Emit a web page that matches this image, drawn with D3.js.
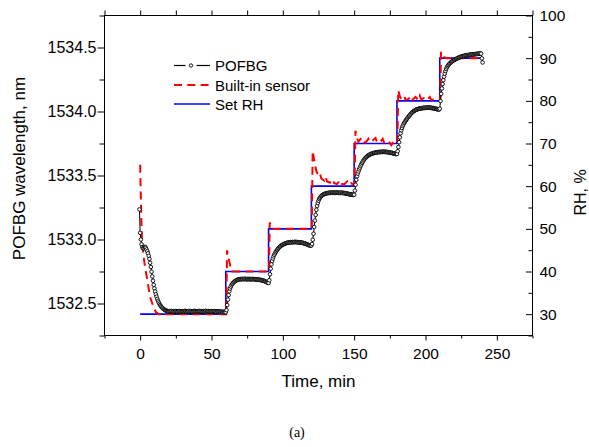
<!DOCTYPE html>
<html><head><meta charset="utf-8">
<script src="https://cdn.jsdelivr.net/npm/d3@7"></script>
<style>
body{margin:0;background:#fff}
svg{display:block}
text{font-family:"Liberation Sans",Arial,sans-serif;fill:#000}
</style>
</head><body>
<svg id="chart" width="589" height="447"></svg>
<script>
// ---------------- DATA ----------------
// POFBG Bragg wavelength (nm), sampled every 0.5 min starting at t = -0.5 min
const pofbgStart = -0.5;
const pofbgStep = 0.5;
const pofbgWavelength = [
  1533.235,1533.052,1533.000,1532.962,1532.940,1532.930,1532.932,1532.940,1532.942,1532.935,
  1532.922,1532.908,1532.892,1532.872,1532.848,1532.818,1532.785,1532.748,1532.712,1532.678,
  1532.646,1532.618,1532.594,1532.572,1532.553,1532.536,1532.521,1532.508,1532.497,1532.487,
  1532.479,1532.472,1532.466,1532.460,1532.456,1532.452,1532.448,1532.446,1532.443,1532.441,
  1532.440,1532.438,1532.441,1532.437,1532.439,1532.442,1532.436,1532.438,1532.440,1532.435,
  1532.439,1532.441,1532.437,1532.436,1532.440,1532.438,1532.442,1532.437,1532.435,1532.439,
  1532.441,1532.438,1532.436,1532.440,1532.443,1532.439,1532.437,1532.440,1532.438,1532.442,
  1532.436,1532.439,1532.441,1532.437,1532.435,1532.440,1532.438,1532.443,1532.439,1532.436,
  1532.438,1532.441,1532.437,1532.439,1532.442,1532.436,1532.440,1532.438,1532.435,1532.439,
  1532.441,1532.437,1532.440,1532.443,1532.438,1532.436,1532.439,1532.441,1532.437,1532.434,
  1532.438,1532.440,1532.436,1532.439,1532.437,1532.441,1532.435,1532.438,1532.436,1532.440,
  1532.437,1532.434,1532.438,1532.436,1532.433,1532.437,1532.435,1532.432,1532.436,1532.433,
  1532.431,1532.432,1532.448,1532.488,1532.530,1532.566,1532.595,1532.617,1532.632,1532.643,
  1532.652,1532.659,1532.665,1532.670,1532.674,1532.678,1532.681,1532.684,1532.686,1532.688,
  1532.689,1532.691,1532.688,1532.692,1532.690,1532.693,1532.689,1532.691,1532.694,1532.690,
  1532.688,1532.692,1532.691,1532.689,1532.693,1532.690,1532.687,1532.691,1532.689,1532.692,
  1532.690,1532.688,1532.691,1532.687,1532.689,1532.686,1532.688,1532.685,1532.687,1532.684,
  1532.682,1532.684,1532.680,1532.678,1532.679,1532.675,1532.673,1532.670,1532.668,1532.665,
  1532.662,1532.660,1532.682,1532.728,1532.772,1532.806,1532.832,1532.852,1532.868,1532.881,
  1532.892,1532.902,1532.911,1532.919,1532.926,1532.933,1532.939,1532.944,1532.949,1532.953,
  1532.957,1532.960,1532.963,1532.966,1532.968,1532.970,1532.972,1532.974,1532.975,1532.977,
  1532.976,1532.978,1532.980,1532.977,1532.979,1532.981,1532.978,1532.980,1532.982,1532.979,
  1532.981,1532.978,1532.980,1532.977,1532.979,1532.976,1532.978,1532.975,1532.973,1532.975,
  1532.971,1532.969,1532.970,1532.966,1532.964,1532.962,1532.959,1532.957,1532.955,1532.953,
  1532.952,1532.953,1532.965,1532.998,1533.045,1533.098,1533.148,1533.192,1533.232,1533.262,
  1533.285,1533.303,1533.316,1533.326,1533.334,1533.340,1533.345,1533.349,1533.352,1533.355,
  1533.357,1533.359,1533.361,1533.363,1533.362,1533.364,1533.366,1533.363,1533.365,1533.367,
  1533.364,1533.366,1533.368,1533.365,1533.363,1533.366,1533.368,1533.365,1533.367,1533.364,
  1533.366,1533.363,1533.365,1533.367,1533.364,1533.362,1533.365,1533.363,1533.360,1533.362,
  1533.359,1533.357,1533.358,1533.355,1533.353,1533.355,1533.352,1533.350,1533.351,1533.349,
  1533.348,1533.350,1533.382,1533.428,1533.466,1533.494,1533.515,1533.532,1533.548,1533.562,
  1533.575,1533.587,1533.598,1533.608,1533.617,1533.625,1533.632,1533.638,1533.644,1533.649,
  1533.654,1533.658,1533.661,1533.664,1533.667,1533.669,1533.671,1533.673,1533.675,1533.676,
  1533.678,1533.680,1533.679,1533.682,1533.681,1533.683,1533.685,1533.682,1533.684,1533.686,
  1533.683,1533.685,1533.687,1533.684,1533.686,1533.683,1533.685,1533.682,1533.684,1533.681,
  1533.679,1533.681,1533.678,1533.676,1533.677,1533.674,1533.672,1533.673,1533.670,1533.669,
  1533.667,1533.668,1533.690,1533.722,1533.760,1533.798,1533.830,1533.853,1533.871,1533.886,
  1533.898,1533.909,1533.918,1533.927,1533.935,1533.943,1533.951,1533.958,1533.965,1533.972,
  1533.979,1533.985,1533.991,1533.996,1534.000,1534.004,1534.008,1534.011,1534.014,1534.016,
  1534.018,1534.020,1534.022,1534.024,1534.023,1534.025,1534.027,1534.026,1534.028,1534.030,
  1534.027,1534.029,1534.031,1534.028,1534.030,1534.032,1534.029,1534.031,1534.028,1534.030,
  1534.027,1534.025,1534.027,1534.024,1534.022,1534.023,1534.020,1534.018,1534.019,1534.016,
  1534.015,1534.022,1534.082,1534.138,1534.180,1534.215,1534.245,1534.272,1534.296,1534.316,
  1534.332,1534.345,1534.355,1534.363,1534.370,1534.376,1534.381,1534.386,1534.390,1534.394,
  1534.398,1534.402,1534.405,1534.408,1534.411,1534.414,1534.417,1534.419,1534.422,1534.424,
  1534.426,1534.428,1534.430,1534.432,1534.434,1534.433,1534.436,1534.438,1534.437,1534.440,
  1534.439,1534.442,1534.441,1534.444,1534.443,1534.446,1534.444,1534.447,1534.445,1534.448,
  1534.446,1534.449,1534.451,1534.448,1534.450,1534.452,1534.450,1534.453,1534.455,1534.452,
  1534.415,1534.383
];

// Built-in humidity sensor reading (RH %)
const sensorTime = [0,0.3,0.7,1.2,2,3,4,5.5,7,9,11,13,
  60.3,60.9,61.8,63,64.5,
  90.3,90.8,91.8,93,
  120.3,120.9,122,123.5,125,126,127,129,130,131,133,135,136,138,140,141,143,145,146,148,149.5,
  150.3,150.9,152,153,155,156,158,160,161,163,165,166,168,170,171,173,175,176,177,178,179.5,
  180.3,180.9,182,183,185,186,188,190,191,193,195,196,197,199,201,203,204,207,209.5,
  210.3,210.9,212,213,215,240];
const sensorRH = [65,60,54,48,45,42,40,37,34,32,30.5,30,
  30,45,43.5,41.5,40,
  40,51.5,50.5,50,
  50,68.3,66,63.5,62.5,63,61.8,61.3,62.2,61.1,60.8,61.6,60.7,60.5,61.4,60.6,60.4,61.1,60.3,60.7,60.3,
  60.5,73,71.2,70.4,71.3,70.4,70.2,71.1,70.3,70.7,71.3,70.3,70.2,71.1,70.2,70.7,70.2,69.6,70.1,69.6,70.3,
  70.5,82.5,81.1,80.4,81.1,80.3,80.4,81.2,80.3,80.9,80.2,81.2,80.3,80.7,80.2,80.9,80.2,80.4,80.5,
  80.6,91.5,90.6,90.2,90,90];

// Set RH (step profile)
const setTime = [0,60,90,120,150,180,210,240];
const setRH   = [30,40,50,60,70,80,90,90];

// Axis ticks
const timeTicks = [0,50,100,150,200,250];
const timeMinorTicks = [-25,25,75,125,175,225,275];
const wlTicks = [1532.5,1533.0,1533.5,1534.0,1534.5];
const wlMinorTicks = [1532.25,1532.75,1533.25,1533.75,1534.25,1534.75];
const rhTicks = [30,40,50,60,70,80,90,100];
const rhMinorTicks = [25,35,45,55,65,75,85,95];

const legendLabels = ["POFBG","Built-in sensor","Set RH"];

// ---------------- CHART ----------------
const svg = d3.select("#chart");
const M = {l:104.5, r:532.5, t:15.5, b:335.5};
const x  = d3.scaleLinear().domain([-25,275]).range([M.l,M.r]);
const yL = d3.scaleLinear().domain([1532.25,1534.75]).range([M.b,M.t]);
const yR = d3.scaleLinear().domain([25,100]).range([M.b,M.t]);

function tidy(g, size){
  g.select(".domain").remove();
  g.selectAll("line").attr("stroke","#000").attr("stroke-width",1);
  g.selectAll("text").attr("fill","#000").style("font-size",size+"px")
    .style("font-family",'"Liberation Sans",Arial,sans-serif');
}

// data layers
const pofbgData = pofbgWavelength.map((v,i)=>[pofbgStart + i*pofbgStep, v]);
const setData = setTime.map((t,i)=>[t,setRH[i]]);
const sensorData = sensorTime.map((t,i)=>[t,sensorRH[i]]);

const plot = svg.append("g");
plot.append("path").datum(setData)
  .attr("fill","none").attr("stroke","#0000ff").attr("stroke-width",1.6)
  .attr("d", d3.line().x(d=>x(d[0])).y(d=>yR(d[1])).curve(d3.curveStepAfter));
plot.append("path").datum(sensorData)
  .attr("fill","none").attr("stroke","#ff0000").attr("stroke-width",2)
  .attr("stroke-dasharray","8,5.3")
  .attr("d", d3.line().x(d=>x(d[0])).y(d=>yR(d[1])));
plot.append("path").datum(pofbgData)
  .attr("fill","none").attr("stroke","#000").attr("stroke-width",1)
  .attr("d", d3.line().x(d=>x(d[0])).y(d=>yL(d[1])));
plot.append("g").selectAll("circle").data(pofbgData).join("circle")
  .attr("cx",d=>x(d[0])).attr("cy",d=>yL(d[1])).attr("r",1.8)
  .attr("fill","#fff").attr("stroke","#000").attr("stroke-width",0.9);

// frame
svg.append("rect").attr("x",M.l).attr("y",M.t).attr("width",M.r-M.l).attr("height",M.b-M.t)
  .attr("fill","none").attr("stroke","#000").attr("stroke-width",1);

// axes
svg.append("g").attr("transform",`translate(0,${M.b})`)
  .call(d3.axisBottom(x).tickValues(timeTicks).tickSize(5).tickPadding(7).tickFormat(d3.format("d")))
  .call(g=>tidy(g,15.5));
svg.append("g").attr("transform",`translate(0,${M.b})`)
  .call(d3.axisBottom(x).tickValues(timeMinorTicks).tickSize(3).tickFormat(""))
  .call(g=>tidy(g,15.5));
svg.append("g").attr("transform",`translate(0,${M.t})`)
  .call(d3.axisTop(x).tickValues(timeTicks.concat(timeMinorTicks)).tickSize(5).tickFormat(""))
  .call(g=>tidy(g,15.5));
svg.append("g").attr("transform",`translate(${M.l},0)`)
  .call(d3.axisLeft(yL).tickValues(wlTicks).tickSize(7).tickPadding(1).tickFormat(d3.format(".1f")))
  .call(g=>tidy(g,16));
svg.append("g").attr("transform",`translate(${M.l},0)`)
  .call(d3.axisLeft(yL).tickValues(wlMinorTicks).tickSize(5).tickFormat(""))
  .call(g=>tidy(g,16));
svg.append("g").attr("transform",`translate(${M.r},0)`)
  .call(d3.axisRight(yR).tickValues(rhTicks).tickSize(-6.5).tickPadding(7).tickFormat(d3.format("d")))
  .call(g=>tidy(g,15.5));
svg.append("g").attr("transform",`translate(${M.r},0)`)
  .call(d3.axisRight(yR).tickValues(rhMinorTicks).tickSize(-4).tickFormat(""))
  .call(g=>tidy(g,15.5));

// axis titles
svg.append("text").attr("x",(M.l+M.r)/2).attr("y",386.5).attr("text-anchor","middle")
  .style("font-size","17px").text("Time, min");
svg.append("text").attr("transform","translate(24.5,168.5) rotate(-90)").attr("text-anchor","middle")
  .style("font-size","17px").text("POFBG wavelength, nm");
svg.append("text").attr("transform","translate(585.5,192.5) rotate(-90)").attr("text-anchor","middle")
  .style("font-size","16px").text("RH, %");

// legend
const lg = svg.append("g");
lg.append("line").attr("x1",174).attr("x2",185.5).attr("y1",65.5).attr("y2",65.5).attr("stroke","#000").attr("stroke-width",1.2);
lg.append("line").attr("x1",196.5).attr("x2",210).attr("y1",65.5).attr("y2",65.5).attr("stroke","#000").attr("stroke-width",1.2);
lg.append("circle").attr("cx",191).attr("cy",65.5).attr("r",1.7).attr("fill","#fff").attr("stroke","#000").attr("stroke-width",0.9);
lg.append("line").attr("x1",174).attr("x2",210).attr("y1",85).attr("y2",85).attr("stroke","#ff0000").attr("stroke-width",2).attr("stroke-dasharray","8,5.3");
lg.append("line").attr("x1",174).attr("x2",210).attr("y1",104).attr("y2",104).attr("stroke","#0000ff").attr("stroke-width",1.6);
lg.selectAll("text.lab").data(legendLabels).join("text").attr("class","lab")
  .attr("x",215).attr("y",(d,i)=>[70.8,90.5,109.8][i]).style("font-size","15px").text(d=>d);

// caption
svg.append("text").attr("x",297).attr("y",437).attr("text-anchor","middle")
  .style("font-family",'"Liberation Serif","Times New Roman",serif').style("font-size","14px").text("(a)");
</script>
</body></html>
